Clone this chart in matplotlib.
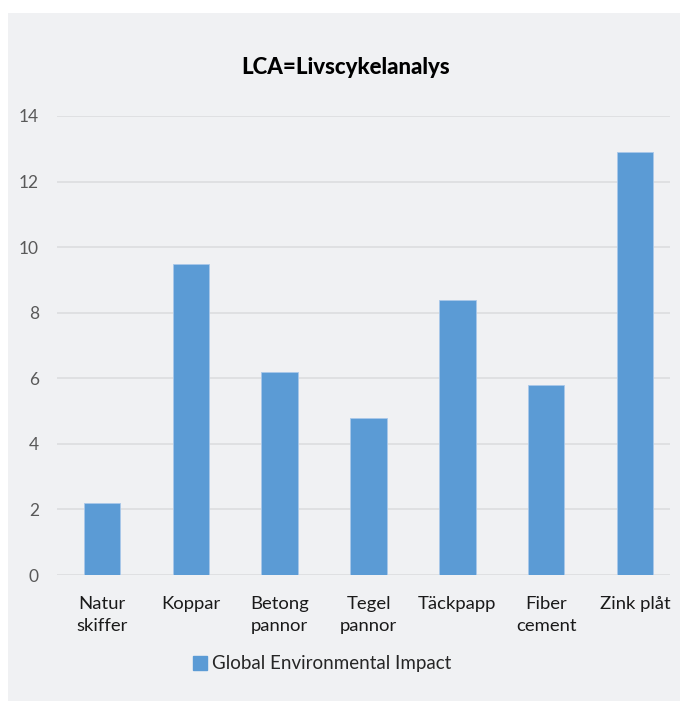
import matplotlib.pyplot as plt
from matplotlib.patches import Rectangle, Patch

categories = ["Natur\nskiffer", "Koppar", "Betong\npannor", "Tegel\npannor",
              "Täckpapp", "Fiber\ncement", "Zink plåt"]
impact = [2.2, 9.5, 6.2, 4.8, 8.4, 5.8, 12.9]
series_name = "Global Environmental Impact"

BAR = "#5B9BD5"
BG = "#F0F1F3"

plt.rcParams["font.family"] = ["Lato", "DejaVu Sans"]

fig = plt.figure(figsize=(6.8, 7.03), dpi=100)
fig.patches.append(Rectangle((8 / 680, 0.003), 1, 1 - 13 / 703 - 0.003,
                             transform=fig.transFigure, facecolor=BG,
                             edgecolor="none", zorder=-10))

ax = fig.add_axes([57 / 680, 1 - 575 / 703, 613 / 680, 459 / 703])
ax.set_facecolor("none")

x = range(len(categories))
ax.bar(x, impact, width=0.41, color=BAR, edgecolor="#A9C8EA", linewidth=0.6,
       zorder=3, label=series_name)

ax.set_xlim(-0.507, 6.394)
ax.set_ylim(0, 14)
ax.set_yticks(range(0, 15, 2))
ax.grid(axis="y", color="#DCDDDF", linewidth=1.2, zorder=0)
for s in ax.spines.values():
    s.set_visible(False)
ax.tick_params(length=0)
ax.tick_params(axis="y", labelsize=12.5, labelcolor="#595959", pad=13)
ax.set_xticks(list(x))
ax.set_xticklabels(categories, fontsize=13.3, color="#1a1a1a", linespacing=1.5)
ax.tick_params(axis="x", pad=15)

fig.text(346 / 680, 1 - 68 / 703, "LCA=Livscykelanalys", ha="center",
         va="center", fontsize=16, fontweight="black")

fig.legend(handles=[Patch(color=BAR, label=series_name)], loc="center",
           bbox_to_anchor=(322 / 680, 1 - 664 / 703), frameon=False,
           fontsize=13.5, handlelength=0.75, handleheight=0.75, handletextpad=0.25,
           labelcolor="#262626")

fig.savefig("out.png", dpi=100, facecolor="white")
